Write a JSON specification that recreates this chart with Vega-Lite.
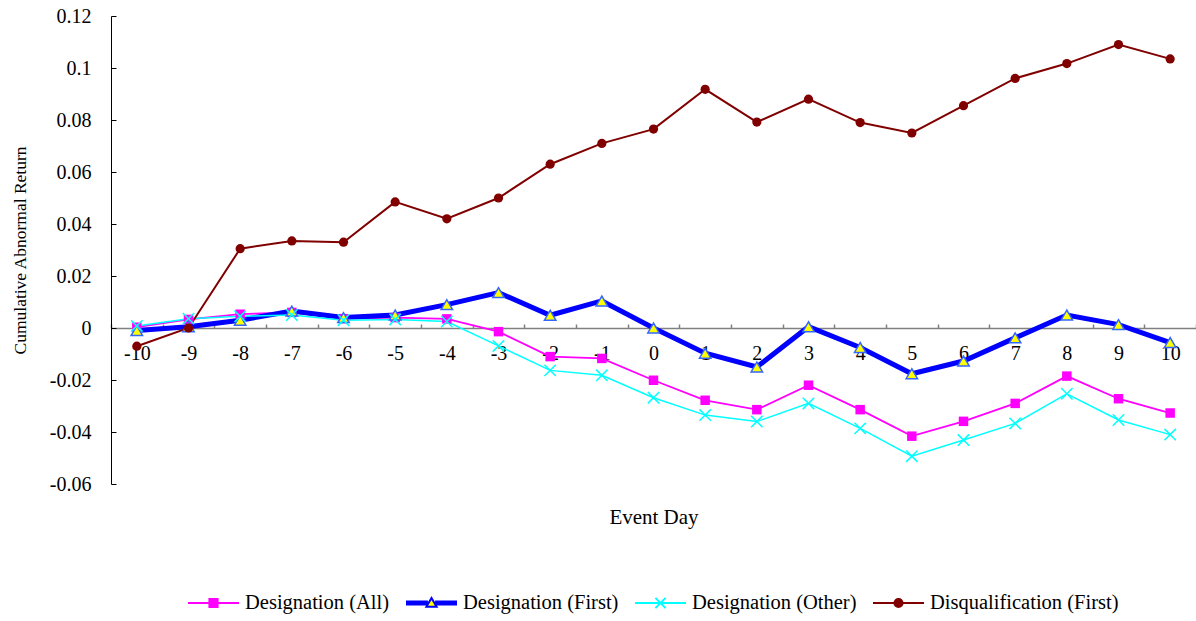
{
  "$schema": "https://vega.github.io/schema/vega-lite/v6.json",
  "width": 1085,
  "height": 468,
  "autosize": {"type": "none"},
  "padding": {"left": 111, "top": 16, "right": 0, "bottom": 137},
  "background": "white",
  "config": {
    "view": {"stroke": null},
    "font": "Liberation Serif"
  },
  "data": {
    "values": [
      {"series": "Designation (All)", "day": -10, "value": 0.0003},
      {"series": "Designation (All)", "day": -9, "value": 0.0033},
      {"series": "Designation (All)", "day": -8, "value": 0.0053},
      {"series": "Designation (All)", "day": -7, "value": 0.006},
      {"series": "Designation (All)", "day": -6, "value": 0.0036},
      {"series": "Designation (All)", "day": -5, "value": 0.004},
      {"series": "Designation (All)", "day": -4, "value": 0.0035},
      {"series": "Designation (All)", "day": -3, "value": -0.0014},
      {"series": "Designation (All)", "day": -2, "value": -0.011},
      {"series": "Designation (All)", "day": -1, "value": -0.0117},
      {"series": "Designation (All)", "day": 0, "value": -0.0201},
      {"series": "Designation (All)", "day": 1, "value": -0.0278},
      {"series": "Designation (All)", "day": 2, "value": -0.0314},
      {"series": "Designation (All)", "day": 3, "value": -0.022},
      {"series": "Designation (All)", "day": 4, "value": -0.0314},
      {"series": "Designation (All)", "day": 5, "value": -0.0416},
      {"series": "Designation (All)", "day": 6, "value": -0.0359},
      {"series": "Designation (All)", "day": 7, "value": -0.029},
      {"series": "Designation (All)", "day": 8, "value": -0.0185},
      {"series": "Designation (All)", "day": 9, "value": -0.0272},
      {"series": "Designation (All)", "day": 10, "value": -0.0327},
      {"series": "Designation (First)", "day": -10, "value": -0.001},
      {"series": "Designation (First)", "day": -9, "value": 0.0005},
      {"series": "Designation (First)", "day": -8, "value": 0.003},
      {"series": "Designation (First)", "day": -7, "value": 0.0065},
      {"series": "Designation (First)", "day": -6, "value": 0.004},
      {"series": "Designation (First)", "day": -5, "value": 0.005},
      {"series": "Designation (First)", "day": -4, "value": 0.009},
      {"series": "Designation (First)", "day": -3, "value": 0.0136},
      {"series": "Designation (First)", "day": -2, "value": 0.0049},
      {"series": "Designation (First)", "day": -1, "value": 0.0104},
      {"series": "Designation (First)", "day": 0, "value": 0.0},
      {"series": "Designation (First)", "day": 1, "value": -0.0097},
      {"series": "Designation (First)", "day": 2, "value": -0.015},
      {"series": "Designation (First)", "day": 3, "value": 0.0005},
      {"series": "Designation (First)", "day": 4, "value": -0.0075},
      {"series": "Designation (First)", "day": 5, "value": -0.0176},
      {"series": "Designation (First)", "day": 6, "value": -0.0127},
      {"series": "Designation (First)", "day": 7, "value": -0.0038},
      {"series": "Designation (First)", "day": 8, "value": 0.005},
      {"series": "Designation (First)", "day": 9, "value": 0.0013},
      {"series": "Designation (First)", "day": 10, "value": -0.0056},
      {"series": "Designation (Other)", "day": -10, "value": 0.0008},
      {"series": "Designation (Other)", "day": -9, "value": 0.0036},
      {"series": "Designation (Other)", "day": -8, "value": 0.0045},
      {"series": "Designation (Other)", "day": -7, "value": 0.005},
      {"series": "Designation (Other)", "day": -6, "value": 0.003},
      {"series": "Designation (Other)", "day": -5, "value": 0.0033},
      {"series": "Designation (Other)", "day": -4, "value": 0.0025},
      {"series": "Designation (Other)", "day": -3, "value": -0.0069},
      {"series": "Designation (Other)", "day": -2, "value": -0.0163},
      {"series": "Designation (Other)", "day": -1, "value": -0.0182},
      {"series": "Designation (Other)", "day": 0, "value": -0.0268},
      {"series": "Designation (Other)", "day": 1, "value": -0.0335},
      {"series": "Designation (Other)", "day": 2, "value": -0.036},
      {"series": "Designation (Other)", "day": 3, "value": -0.029},
      {"series": "Designation (Other)", "day": 4, "value": -0.0386},
      {"series": "Designation (Other)", "day": 5, "value": -0.0493},
      {"series": "Designation (Other)", "day": 6, "value": -0.0431},
      {"series": "Designation (Other)", "day": 7, "value": -0.0367},
      {"series": "Designation (Other)", "day": 8, "value": -0.0253},
      {"series": "Designation (Other)", "day": 9, "value": -0.0354},
      {"series": "Designation (Other)", "day": 10, "value": -0.041},
      {"series": "Disqualification (First)", "day": -10, "value": -0.007},
      {"series": "Disqualification (First)", "day": -9, "value": 0.0},
      {"series": "Disqualification (First)", "day": -8, "value": 0.0305},
      {"series": "Disqualification (First)", "day": -7, "value": 0.0335},
      {"series": "Disqualification (First)", "day": -6, "value": 0.033},
      {"series": "Disqualification (First)", "day": -5, "value": 0.0485},
      {"series": "Disqualification (First)", "day": -4, "value": 0.042},
      {"series": "Disqualification (First)", "day": -3, "value": 0.05},
      {"series": "Disqualification (First)", "day": -2, "value": 0.063},
      {"series": "Disqualification (First)", "day": -1, "value": 0.071},
      {"series": "Disqualification (First)", "day": 0, "value": 0.0765},
      {"series": "Disqualification (First)", "day": 1, "value": 0.0918},
      {"series": "Disqualification (First)", "day": 2, "value": 0.0792},
      {"series": "Disqualification (First)", "day": 3, "value": 0.088},
      {"series": "Disqualification (First)", "day": 4, "value": 0.079},
      {"series": "Disqualification (First)", "day": 5, "value": 0.075},
      {"series": "Disqualification (First)", "day": 6, "value": 0.0855},
      {"series": "Disqualification (First)", "day": 7, "value": 0.096},
      {"series": "Disqualification (First)", "day": 8, "value": 0.1017},
      {"series": "Disqualification (First)", "day": 9, "value": 0.109},
      {"series": "Disqualification (First)", "day": 10, "value": 0.1035}
    ]
  },
  "encoding": {
    "x": {
      "field": "day",
      "type": "ordinal",
      "bandPosition": 0.5,
      "scale": {"type": "band", "paddingInner": 0, "paddingOuter": 0},
      "axis": {
        "title": "Event Day",
        "titleFont": "Liberation Serif",
        "titleFontSize": 21,
        "titleFontWeight": "normal",
        "titleColor": "#000000",
        "titleY": 189,
        "titleBaseline": "middle",
        "offset": -156,
        "labelAngle": 0,
        "labelFont": "Liberation Serif",
        "labelFontSize": 20,
        "labelColor": "#000000",
        "labelPadding": 19,
        "tickBand": "extent",
        "tickSize": -4,
        "tickColor": "#808080",
        "tickWidth": 1.5,
        "domainColor": "#808080",
        "domainWidth": 1.5,
        "grid": false
      }
    },
    "y": {
      "field": "value",
      "type": "quantitative",
      "scale": {"domain": [-0.06, 0.12], "nice": false, "zero": false},
      "axis": {
        "title": "Cumulative Abnormal Return",
        "titleFont": "Liberation Serif",
        "titleFontSize": 17.5,
        "titleFontWeight": "normal",
        "titleColor": "#000000",
        "titleX": -86,
        "titleY": 234,
        "titleAngle": -90,
        "titleBaseline": "alphabetic",
        "values": [-0.06, -0.04, -0.02, 0, 0.02, 0.04, 0.06, 0.08, 0.1, 0.12],
        "labelExpr": "'' + round(datum.value * 100) / 100",
        "labelFont": "Liberation Serif",
        "labelFontSize": 20,
        "labelColor": "#000000",
        "labelPadding": 25,
        "tickSize": -5,
        "tickColor": "#000000",
        "domainColor": "#000000",
        "grid": false
      }
    }
  },
  "layer": [
    {
      "mark": {"type": "point", "filled": true, "opacity": 0},
      "encoding": {
        "shape": {
          "field": "series",
          "type": "nominal",
          "scale": {
            "domain": ["Designation (All)", "Designation (First)", "Designation (Other)", "Disqualification (First)"],
            "range": [
              "M-1,0H-0.16M0.16,0H1M-0.16,-0.16H0.16V0.16H-0.16Z",
              "M-1,-0.06H-0.14M0.14,-0.06H1M-1,-0.03H-0.14M0.14,-0.03H1M-1,0H-0.14M0.14,0H1M-1,0.03H-0.14M0.14,0.03H1M-1,0.06H-0.14M0.14,0.06H1M0,-0.2L0.2,0.15H-0.2Z",
              "M-1,0H1M-0.2,-0.2L0.2,0.2M-0.2,0.2L0.2,-0.2",
              "M-1,0H-0.16M0.16,0H1M-0.16,0A0.16,0.16 0 1,0 0.16,0A0.16,0.16 0 1,0 -0.16,0Z"
            ]
          },
          "legend": {
            "title": null,
            "orient": "none",
            "legendX": 76,
            "legendY": 560.5,
            "direction": "horizontal",
            "padding": 0,
            "labelFont": "Liberation Serif",
            "labelFontSize": 20.5,
            "labelColor": "#000000",
            "labelOffset": 5,
            "columnPadding": 12,
            "symbolSize": 2601,
            "symbolStrokeWidth": 2,
            "symbolOpacity": 1,
            "labelLimit": 400
          }
        },
        "fill": {
          "field": "series",
          "type": "nominal",
          "scale": {
            "domain": ["Designation (All)", "Designation (First)", "Designation (Other)", "Disqualification (First)"],
            "range": ["#ff00ff", "#ffff00", "transparent", "#800000"]
          }
        },
        "stroke": {
          "field": "series",
          "type": "nominal",
          "scale": {
            "domain": ["Designation (All)", "Designation (First)", "Designation (Other)", "Disqualification (First)"],
            "range": ["#ff00ff", "#0000ff", "#00ffff", "#800000"]
          }
        }
      }
    },
    {
      "transform": [{"filter": {"field": "series", "equal": "Designation (All)"}}],
      "mark": {"type": "line", "stroke": "#ff00ff", "strokeWidth": 1.8},
      "encoding": {}
    },
    {
      "transform": [{"filter": {"field": "series", "equal": "Designation (First)"}}],
      "mark": {"type": "line", "stroke": "#0000ff", "strokeWidth": 5},
      "encoding": {}
    },
    {
      "transform": [{"filter": {"field": "series", "equal": "Designation (Other)"}}],
      "mark": {"type": "line", "stroke": "#00ffff", "strokeWidth": 1.5},
      "encoding": {}
    },
    {
      "transform": [{"filter": {"field": "series", "equal": "Disqualification (First)"}}],
      "mark": {"type": "line", "stroke": "#800000", "strokeWidth": 2},
      "encoding": {}
    },
    {
      "transform": [{"filter": {"field": "series", "equal": "Designation (All)"}}],
      "mark": {"type": "point", "shape": "square", "filled": true, "fill": "#ff00ff", "size": 90, "opacity": 1}
    },
    {
      "transform": [{"filter": {"field": "series", "equal": "Designation (First)"}}],
      "mark": {"type": "point", "shape": "triangle-up", "filled": true, "fill": "#ffff00", "stroke": "#3366ff", "strokeWidth": 1.5, "size": 130, "opacity": 1}
    },
    {
      "transform": [{"filter": {"field": "series", "equal": "Designation (Other)"}}],
      "mark": {"type": "point", "shape": "M-1,-1L1,1M-1,1L1,-1", "filled": false, "stroke": "#00ffff", "strokeWidth": 1.5, "size": 130, "opacity": 1}
    },
    {
      "transform": [{"filter": {"field": "series", "equal": "Disqualification (First)"}}],
      "mark": {"type": "point", "shape": "circle", "filled": true, "fill": "#800000", "size": 85, "opacity": 1}
    }
  ]
}
